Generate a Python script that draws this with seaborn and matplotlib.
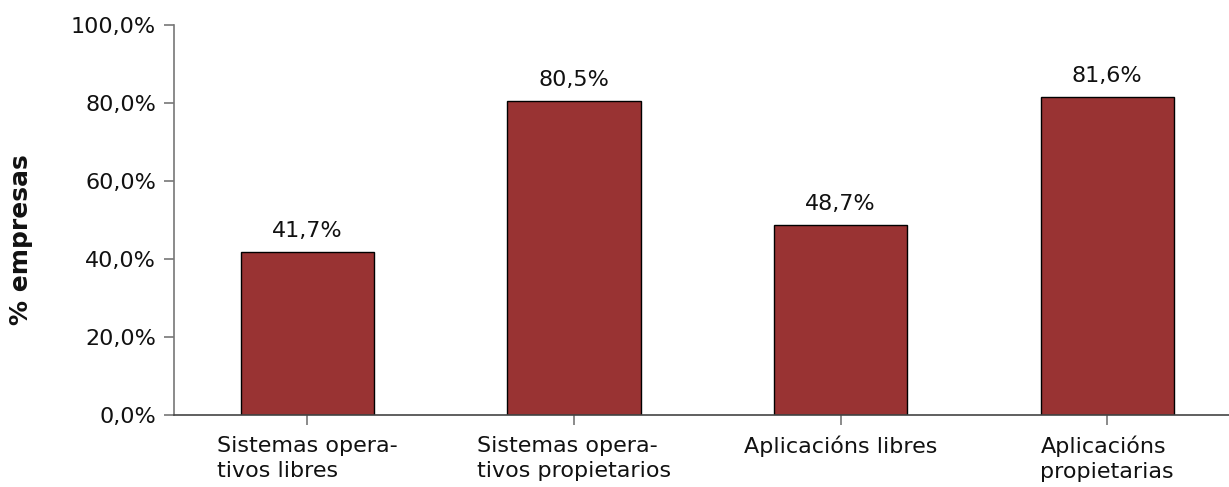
import matplotlib
matplotlib.use("Agg")
import matplotlib.pyplot as plt
import seaborn as sns
import pandas as pd

categories = ["Sistemas opera-\ntivos libres", "Sistemas opera-\ntivos propietarios",
              "Aplicacións libres", "Aplicacións\npropietarias"]
values = [41.7, 80.5, 48.7, 81.6]
yticks = [0, 20, 40, 60, 80, 100]

sns.set_style("white")
plt.rcParams['font.family'] = ['DejaVu Sans']

df = pd.DataFrame({"cat": categories, "val": values})

fig = plt.figure(figsize=(12.29, 4.87), dpi=100)
ax = fig.add_axes([174/1229, 1 - 415/487, 1 - 174/1229, (415 - 25)/487])

sns.barplot(data=df, x="cat", y="val", color="#993333", saturation=1, width=0.5,
            edgecolor="black", linewidth=1, ax=ax)

ax.set_xlim(-0.5, 3.457)
ax.set_ylim(0, 100)
ax.set_yticks(yticks)
ax.set_yticklabels([f"{v:.1f}%".replace(".", ",") for v in yticks])

for i, v in enumerate(values):
    ax.annotate(f"{v:.1f}%".replace(".", ","), (i, v), xytext=(0, 8), textcoords="offset points",
                ha="center", va="bottom", fontsize=16, color="#111111")

ax.set_xlabel("")
ax.set_ylabel("% empresas", fontsize=18, fontweight="bold", color="#111111")
ax.yaxis.set_label_coords(-0.134, 0.449)
for lab in ax.get_xticklabels():
    lab.set_multialignment("left")
    lab.set_linespacing(1.3)

ax.tick_params(axis="both", labelsize=16, length=7, width=1.2, color="#777777",
               direction="out", labelcolor="#111111")
ax.tick_params(axis="y", left=True, pad=6)
ax.tick_params(axis="x", bottom=True, pad=8)

for s in ["top", "right"]:
    ax.spines[s].set_visible(False)
ax.spines["left"].set_color("#777777")
ax.spines["left"].set_linewidth(1.2)
ax.spines["bottom"].set_color("#444444")
ax.spines["bottom"].set_linewidth(1.2)

fig.savefig("out.png", dpi=100)
